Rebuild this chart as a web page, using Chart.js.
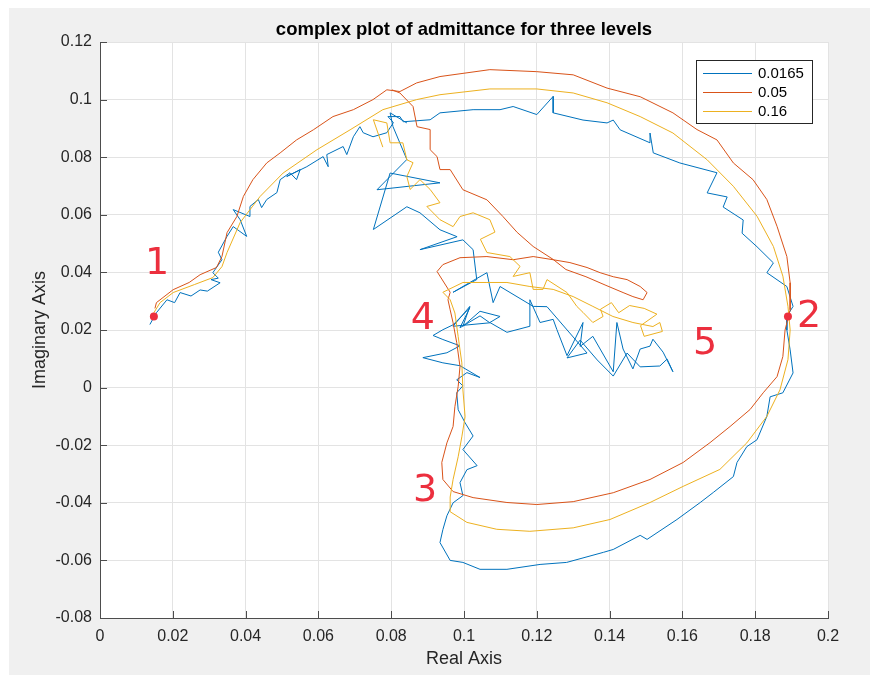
<!DOCTYPE html>
<html>
<head>
<meta charset="utf-8">
<title>complex plot of admittance for three levels</title>
<script src="https://cdn.jsdelivr.net/npm/chart.js@4.4.1/dist/chart.umd.min.js"></script>
<style>
  body { margin: 0; background: #fff; }
  canvas { display: block; }
</style>
</head>
<body>
<canvas id="admittance" width="875" height="675"></canvas>
<script>
// levels shown in the legend
const levelNames = ['0.0165', '0.05', '0.16'];

// tick labels
const realTicks = [0, 0.02, 0.04, 0.06, 0.08, 0.1, 0.12, 0.14, 0.16, 0.18, 0.2];
const imagTicks = [-0.08, -0.06, -0.04, -0.02, 0, 0.02, 0.04, 0.06, 0.08, 0.1, 0.12];

// [real, imaginary], in drawing order
const level0165 = [
  [0.0137,0.0219],[0.0155,0.026],[0.0184,0.0305],[0.0205,0.0295],[0.022,0.033],[0.025,0.0318],
  [0.0275,0.0339],[0.0295,0.0335],[0.033,0.0364],[0.0305,0.0375],[0.0325,0.038],[0.031,0.0399],
  [0.0335,0.0444],[0.0325,0.047],[0.0349,0.0525],[0.0366,0.0559],[0.0403,0.0525],[0.0385,0.0583],
  [0.0366,0.0618],[0.0412,0.0594],[0.0412,0.0629],[0.0435,0.0653],[0.0444,0.0625],[0.0458,0.0653],
  [0.0486,0.0677],[0.0495,0.0722],[0.0522,0.0746],[0.054,0.0722],[0.055,0.0757],[0.0513,0.0733],
  [0.0568,0.0767],[0.0613,0.0802],[0.0627,0.0767],[0.0623,0.0809],[0.0668,0.0837],[0.0678,0.0809],
  [0.0696,0.0871],[0.0714,0.0906],[0.0723,0.0885],[0.075,0.0871],[0.0788,0.0885],[0.0806,0.092],
  [0.0791,0.0941],[0.0824,0.0941],[0.0833,0.0923],[0.0907,0.093],[0.0934,0.0954],[0.1025,0.0965],
  [0.1099,0.0965],[0.1135,0.0976],[0.12,0.0948],[0.1245,0.1011],[0.1245,0.0954],[0.1327,0.0929],
  [0.1393,0.0919],[0.141,0.0929],[0.1429,0.0895],[0.1511,0.085],[0.1511,0.0884],[0.152,0.0815],
  [0.1593,0.078],[0.1695,0.0746],[0.1668,0.0676],[0.1723,0.0662],[0.1712,0.0627],[0.1767,0.0582],
  [0.1764,0.0536],[0.1805,0.0489],[0.185,0.0433],[0.1832,0.0399],[0.1887,0.0351],[0.1904,0.0282],
  [0.1887,0.0247],[0.1887,0.02],[0.1896,0.0131],[0.1904,0.0051],[0.1876,-0.0018],[0.1841,-0.0032],
  [0.1832,-0.01],[0.1805,-0.0181],[0.1777,-0.0205],[0.175,-0.026],[0.174,-0.0309],[0.1685,-0.0364],
  [0.1649,-0.0399],[0.1585,-0.0458],[0.1503,-0.0527],[0.1484,-0.0513],[0.141,-0.0562],[0.1383,-0.0572],
  [0.1282,-0.0607],[0.1209,-0.0614],[0.1118,-0.0631],[0.1044,-0.0631],[0.0997,-0.0607],[0.0962,-0.06],
  [0.0934,-0.0538],[0.0942,-0.0493],[0.0953,-0.0445],[0.097,-0.04],[0.0997,-0.0375],[0.0989,-0.033],
  [0.1008,-0.0285],[0.1036,-0.0271],[0.0997,-0.0215],[0.1025,-0.0168],[0.1003,-0.0122],[0.0984,-0.0077],
  [0.098,-0.0018],[0.0997,0.0006],[0.098,0.0027],[0.1008,0.0052],[0.1044,0.0035],[0.0989,0.0076],
  [0.0942,0.0086],[0.0887,0.0104],[0.0953,0.0121],[0.0989,0.0145],[0.0942,0.0167],[0.0915,0.0181],
  [0.0942,0.0201],[0.097,0.0218],[0.1016,0.0277],[0.0989,0.0208],[0.1044,0.0249],[0.1071,0.0225],
  [0.097,0.0213],[0.1016,0.0282],[0.0997,0.0213],[0.1044,0.0265],[0.1099,0.0247],[0.1071,0.0226],
  [0.1118,0.0192],[0.1181,0.0213],[0.1181,0.0305],[0.1209,0.0226],[0.1245,0.0237],[0.1255,0.0202],
  [0.1283,0.0111],[0.1327,0.0226],[0.1319,0.0143],[0.1354,0.0178],[0.1374,0.0134],[0.141,0.0055],
  [0.142,0.0226],[0.1437,0.0134],[0.1464,0.0065],[0.1484,0.0134],[0.1511,0.0144],[0.1519,0.0168],
  [0.1547,0.0123],[0.1574,0.0055],[0.1558,0.0099],[0.1538,0.0075],[0.1484,0.0072],[0.1448,0.012],
  [0.141,0.004],[0.1366,0.0096],[0.1319,0.0165],[0.1283,0.0103],[0.1338,0.012],[0.1228,0.0281],
  [0.119,0.0282],[0.1099,0.0351],[0.108,0.0295],[0.1063,0.0399],[0.1016,0.0365],[0.097,0.0331],
  [0.1035,0.0375],[0.1025,0.0479],[0.0997,0.0513],[0.0879,0.0479],[0.0981,0.0524],[0.0934,0.0548],
  [0.0879,0.0607],[0.0843,0.0628],[0.0751,0.0549],[0.0797,0.0745],[0.0934,0.0711],[0.0761,0.0687],
  [0.0843,0.0792],[0.0805,0.0906],[0.0797,0.0954],[0.0843,0.0919]
];

const level005 = [
  [0.0151,0.0275],[0.0155,0.0295],[0.0201,0.034],[0.0245,0.0365],[0.0275,0.0392],[0.032,0.0417],
  [0.0335,0.0455],[0.0349,0.0538],[0.0376,0.0594],[0.0394,0.0664],[0.042,0.0722],[0.0458,0.078],
  [0.0495,0.0815],[0.054,0.086],[0.0586,0.0895],[0.064,0.0941],[0.0696,0.0965],[0.075,0.1],
  [0.0788,0.1034],[0.0824,0.1028],[0.087,0.1058],[0.0934,0.108],[0.1071,0.1104],[0.12,0.1097],
  [0.13,0.1086],[0.1393,0.104],[0.1484,0.101],[0.1574,0.0954],[0.164,0.0896],[0.1695,0.086],
  [0.174,0.078],[0.1794,0.0722],[0.1832,0.0653],[0.186,0.056],[0.1887,0.0455],[0.1896,0.0364],
  [0.1896,0.027],[0.1882,0.02],[0.1876,0.0108],[0.186,0.0038],[0.1822,-0.0018],[0.1786,-0.0076],
  [0.1731,-0.0135],[0.1676,-0.0191],[0.1602,-0.026],[0.1511,-0.0319],[0.141,-0.0365],[0.13,-0.0396],
  [0.12,-0.0406],[0.1118,-0.0399],[0.1025,-0.0382],[0.097,-0.0361],[0.0942,-0.0319],[0.0939,-0.026],
  [0.0953,-0.0192],[0.097,-0.0135],[0.0975,-0.0066],[0.0984,0.0004],[0.0989,0.0073],[0.098,0.0156],
  [0.097,0.0225],[0.0962,0.027],[0.0956,0.0305],[0.0962,0.0331],[0.0926,0.0403],[0.0942,0.0427],
  [0.0989,0.0451],[0.1063,0.0455],[0.1135,0.0444],[0.119,0.0455],[0.1245,0.0444],[0.1291,0.0434],
  [0.1338,0.0417],[0.1374,0.0399],[0.141,0.0385],[0.1448,0.0375],[0.1484,0.0351],[0.1503,0.033],
  [0.1492,0.0305],[0.1464,0.0316],[0.1437,0.033],[0.139,0.0355],[0.1335,0.0385],[0.128,0.041],
  [0.1245,0.0445],[0.119,0.049],[0.1146,0.0539],[0.1107,0.0594],[0.1063,0.0652],[0.0997,0.0687],
  [0.0962,0.0757],[0.0934,0.0757],[0.0926,0.0802],[0.0907,0.0826],[0.0907,0.0896],[0.0871,0.0906],
  [0.086,0.0976],[0.0824,0.1023],[0.0802,0.1034]
];

const level016 = [
  [0.0148,0.026],[0.0165,0.0295],[0.0201,0.033],[0.026,0.0358],[0.031,0.0382],[0.0335,0.042],
  [0.0349,0.0469],[0.0385,0.0573],[0.044,0.0664],[0.0503,0.0745],[0.0596,0.0826],[0.0687,0.0895],
  [0.0777,0.0965],[0.087,0.1],[0.0934,0.1017],[0.1071,0.1037],[0.12,0.1037],[0.13,0.1023],
  [0.1393,0.0989],[0.1484,0.0941],[0.1574,0.0884],[0.1668,0.0791],[0.174,0.0699],[0.1805,0.0595],
  [0.185,0.049],[0.1876,0.0387],[0.189,0.0282],[0.1896,0.02],[0.189,0.0097],[0.1868,-0.0008],
  [0.1832,-0.01],[0.1777,-0.0192],[0.1703,-0.0284],[0.1602,-0.0343],[0.1511,-0.0399],[0.1401,-0.0458],
  [0.13,-0.0487],[0.1181,-0.0499],[0.109,-0.0492],[0.1008,-0.0468],[0.0962,-0.0431],[0.0962,-0.038],
  [0.097,-0.0319],[0.0984,-0.024],[0.0994,-0.0171],[0.1003,-0.0101],[0.0997,-0.0008],[0.0994,0.0086],
  [0.0984,0.0177],[0.0975,0.0259],[0.0962,0.0305],[0.0942,0.0331],[0.0997,0.0365],[0.1063,0.0365],
  [0.1118,0.0365],[0.1181,0.0351],[0.1245,0.0341],[0.13,0.0316],[0.1354,0.0282],[0.1409,0.0247],
  [0.1464,0.0226],[0.1519,0.0212],[0.1538,0.0226],[0.1545,0.0195],[0.1495,0.0178],[0.1485,0.0215],
  [0.153,0.0255],[0.1495,0.0275],[0.1455,0.0285],[0.1425,0.026],[0.1405,0.0295],[0.1375,0.0272],
  [0.1382,0.0247],[0.1354,0.0226],[0.1327,0.0261],[0.131,0.0282],[0.1283,0.033],[0.1228,0.0375],
  [0.1217,0.0341],[0.119,0.0341],[0.1181,0.0399],[0.1135,0.0386],[0.1154,0.0421],[0.1126,0.0455],
  [0.1063,0.0469],[0.1045,0.0515],[0.1085,0.054],[0.1071,0.0583],[0.1025,0.0607],[0.0989,0.0594],
  [0.097,0.0559],[0.0934,0.0583],[0.0898,0.0629],[0.0934,0.0642],[0.0907,0.0688],[0.0879,0.0722],
  [0.0852,0.0688],[0.0843,0.0733],[0.086,0.0781],[0.0843,0.0791],[0.0832,0.085],[0.0797,0.085],
  [0.0788,0.0919],[0.0751,0.093],[0.0777,0.0835]
];

// the two red dots marked by hand (points 1 and 2)
const markedPoints = [[0.0148,0.0247],[0.189,0.0247]];

// handwritten numbers: label, real, imaginary
const handNotes = [
  ['1', 0.0157, 0.0427],
  ['2', 0.1948, 0.0243],
  ['3', 0.0893, -0.036],
  ['4', 0.0887, 0.0237],
  ['5', 0.1662, 0.015]
];

const lineColors = ['#0072BD', '#D95319', '#EDB120'];
const textColor = '#262626';
const fontName = '"Liberation Sans", Arial, Helvetica, sans-serif';

function toPoints(list) {
  return list.map(p => ({ x: p[0], y: p[1] }));
}

function fmt(v) {
  return String(parseFloat(v.toFixed(2)));
}

const matlabLook = {
  id: 'matlabLook',
  beforeDraw(chart) {
    const ctx = chart.ctx, a = chart.chartArea;
    ctx.save();
    ctx.fillStyle = '#ffffff';
    ctx.fillRect(0, 0, chart.width, chart.height);
    ctx.fillStyle = '#f0f0f0';
    ctx.fillRect(9, 8, 861, 667);
    ctx.fillStyle = '#ffffff';
    ctx.fillRect(a.left, a.top, a.right - a.left, a.bottom - a.top);
    ctx.restore();
  },
  afterDraw(chart) {
    const ctx = chart.ctx, a = chart.chartArea;
    const xs = chart.scales.x, ys = chart.scales.y;
    ctx.save();

    // inward tick marks
    ctx.strokeStyle = '#4d4d4d';
    ctx.lineWidth = 1;
    ctx.beginPath();
    realTicks.forEach(v => {
      const px = Math.round(xs.getPixelForValue(v)) + 0.5;
      ctx.moveTo(px, a.bottom);
      ctx.lineTo(px, a.bottom - 7);
    });
    imagTicks.forEach(v => {
      const py = Math.round(ys.getPixelForValue(v)) + 0.5;
      ctx.moveTo(a.left, py);
      ctx.lineTo(a.left + 7, py);
    });
    ctx.stroke();

    // title and axis names
    ctx.fillStyle = '#000000';
    ctx.textAlign = 'center';
    ctx.textBaseline = 'middle';
    ctx.font = 'bold 18.5px ' + fontName;
    ctx.fillText('complex plot of admittance for three levels', (a.left + a.right) / 2, 30);
    ctx.fillStyle = textColor;
    ctx.font = '18px ' + fontName;
    ctx.fillText('Real Axis', (a.left + a.right) / 2, 659);
    ctx.save();
    ctx.translate(40, (a.top + a.bottom) / 2);
    ctx.rotate(-Math.PI / 2);
    ctx.fillText('Imaginary Axis', 0, 0);
    ctx.restore();

    // legend box
    const lx = 696, ly = 60, lw = 116, lh = 63;
    ctx.fillStyle = '#ffffff';
    ctx.fillRect(lx, ly, lw, lh);
    ctx.strokeStyle = '#262626';
    ctx.strokeRect(lx + 0.5, ly + 0.5, lw, lh);
    ctx.font = '15px ' + fontName;
    ctx.textAlign = 'left';
    levelNames.forEach((name, i) => {
      const ry = ly + 13 + i * 19;
      ctx.strokeStyle = lineColors[i];
      ctx.beginPath();
      ctx.moveTo(lx + 7, ry + 0.5);
      ctx.lineTo(lx + 56, ry + 0.5);
      ctx.stroke();
      ctx.fillStyle = '#000000';
      ctx.fillText(name, lx + 62, ry + 1);
    });

    // handwritten annotations
    ctx.fillStyle = '#ec2f3e';
    ctx.font = '38px "DejaVu Sans", sans-serif';
    ctx.textAlign = 'center';
    handNotes.forEach(n => {
      ctx.fillText(n[0], xs.getPixelForValue(n[1]), ys.getPixelForValue(n[2]));
    });
    ctx.restore();
  }
};

const datasets = [level0165, level005, level016].map((list, i) => ({
  label: levelNames[i],
  data: toPoints(list),
  showLine: true,
  borderColor: lineColors[i],
  borderWidth: 1,
  pointRadius: 0,
  tension: 0,
  order: 3 - i
}));
datasets.push({
  label: 'marked',
  data: toPoints(markedPoints),
  showLine: false,
  pointRadius: 4,
  pointBackgroundColor: '#ec2f3e',
  pointBorderWidth: 0,
  order: 0
});

const chart = new Chart(document.getElementById('admittance'), {
  type: 'scatter',
  data: { datasets: datasets },
  options: {
    responsive: false,
    animation: false,
    layout: { padding: { left: 0, right: 47, top: 42, bottom: 0 } },
    plugins: {
      legend: { display: false },
      tooltip: { enabled: false },
      title: { display: false }
    },
    scales: {
      x: {
        type: 'linear',
        min: 0,
        max: 0.2,
        afterFit: s => { s.height = 57; },
        afterBuildTicks: s => { s.ticks = realTicks.map(v => ({ value: v })); },
        grid: { color: '#e3e3e3', drawTicks: false },
        border: { color: '#4d4d4d', width: 1 },
        ticks: {
          padding: 9,
          color: textColor,
          font: { family: fontName, size: 16 },
          autoSkip: false,
          maxRotation: 0,
          callback: v => fmt(v)
        }
      },
      y: {
        type: 'linear',
        min: -0.08,
        max: 0.12,
        afterFit: s => { s.width = 100; },
        afterBuildTicks: s => { s.ticks = imagTicks.map(v => ({ value: v })); },
        grid: { color: '#e3e3e3', drawTicks: false },
        border: { color: '#4d4d4d', width: 1 },
        ticks: {
          padding: 8,
          color: textColor,
          font: { family: fontName, size: 16 },
          autoSkip: false,
          callback: v => fmt(v)
        }
      }
    }
  },
  plugins: [matlabLook]
});
</script>
</body>
</html>
